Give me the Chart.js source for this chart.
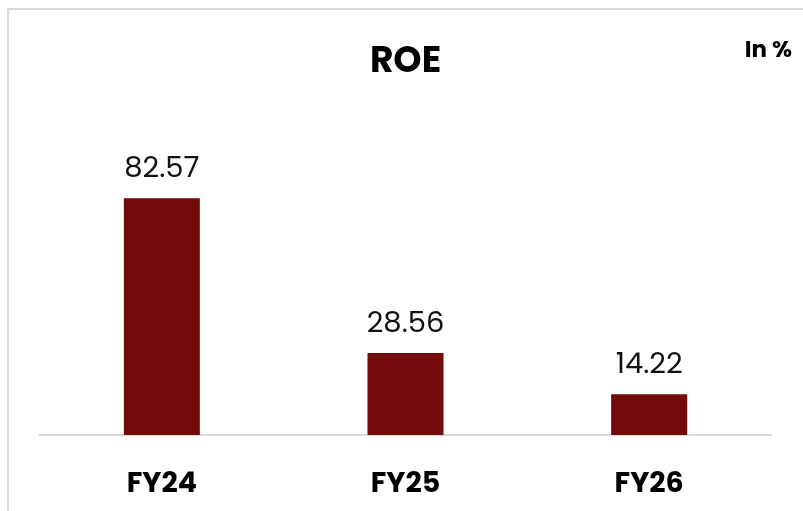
<!DOCTYPE html>
<html>
<head>
<meta charset="utf-8">
<script src="https://cdn.jsdelivr.net/npm/chart.js@4/dist/chart.umd.min.js"></script>
<style>
    html, body { margin: 0; padding: 0; background: #fff; }
    #wrap { position: relative; width: 803px; height: 511px; overflow: hidden; }
    #frame { position: absolute; left: 7px; top: 8px; width: 830px; height: 540px; border: 2px solid #d9d9d9; box-sizing: border-box; }
    #c { position: absolute; left: 0; top: 0; }
</style>
</head>
<body>
<div id="wrap">
    <div id="frame"></div>
    <canvas id="c" width="803" height="511"></canvas>
</div>
<script>
const categories = ["FY24", "FY25", "FY26"];
const roeValues = [82.57, 28.56, 14.22];
const unitLabel = "In %";

const fontFamily = "Poppins, Inter, 'Open Sans', sans-serif";

const valueLabels = {
    id: "valueLabels",
    afterDatasetsDraw(chart) {
        const ctx = chart.ctx;
        const meta = chart.getDatasetMeta(0);
        ctx.save();
        ctx.font = "400 29px " + fontFamily;
        ctx.fillStyle = "#111";
        ctx.textAlign = "center";
        ctx.textBaseline = "alphabetic";
        meta.data.forEach(function(bar, i) {
            ctx.fillText(roeValues[i].toFixed(2), bar.x, bar.y - 21);
        });
        ctx.font = "700 23px " + fontFamily;
        ctx.textAlign = "right";
        ctx.textBaseline = "middle";
        ctx.fillStyle = "#000";
        ctx.fillText(unitLabel, 792, 51);
        ctx.restore();
    }
};

document.addEventListener("DOMContentLoaded", function() {
    const ctx = document.getElementById("c").getContext("2d");
    new Chart(ctx, {
        type: "bar",
        data: {
            labels: categories,
            datasets: [{
                data: roeValues,
                backgroundColor: "#730b0b",
                barPercentage: 0.78,
                categoryPercentage: 0.4
            }]
        },
        options: {
            responsive: false,
            animation: false,
            layout: {
                padding: { left: 40, right: 32, top: 0, bottom: 0 }
            },
            plugins: {
                legend: { display: false },
                tooltip: { enabled: false },
                title: {
                    display: true,
                    text: "ROE",
                    color: "#000",
                    font: { family: fontFamily, size: 36, weight: "bold" },
                    padding: { top: 41, bottom: 64 }
                }
            },
            scales: {
                x: {
                    grid: { display: false, drawTicks: false },
                    border: { display: true, color: "#d9d9d9", width: 2 },
                    ticks: {
                        color: "#000",
                        padding: 33,
                        font: { family: fontFamily, size: 28.5, weight: "bold" }
                    },
                    afterFit: function(scale) {
                        scale.height = 76;
                    }
                },
                y: {
                    display: false,
                    min: 0,
                    max: 100
                }
            }
        },
        plugins: [valueLabels]
    });
});
</script>
</body>
</html>
